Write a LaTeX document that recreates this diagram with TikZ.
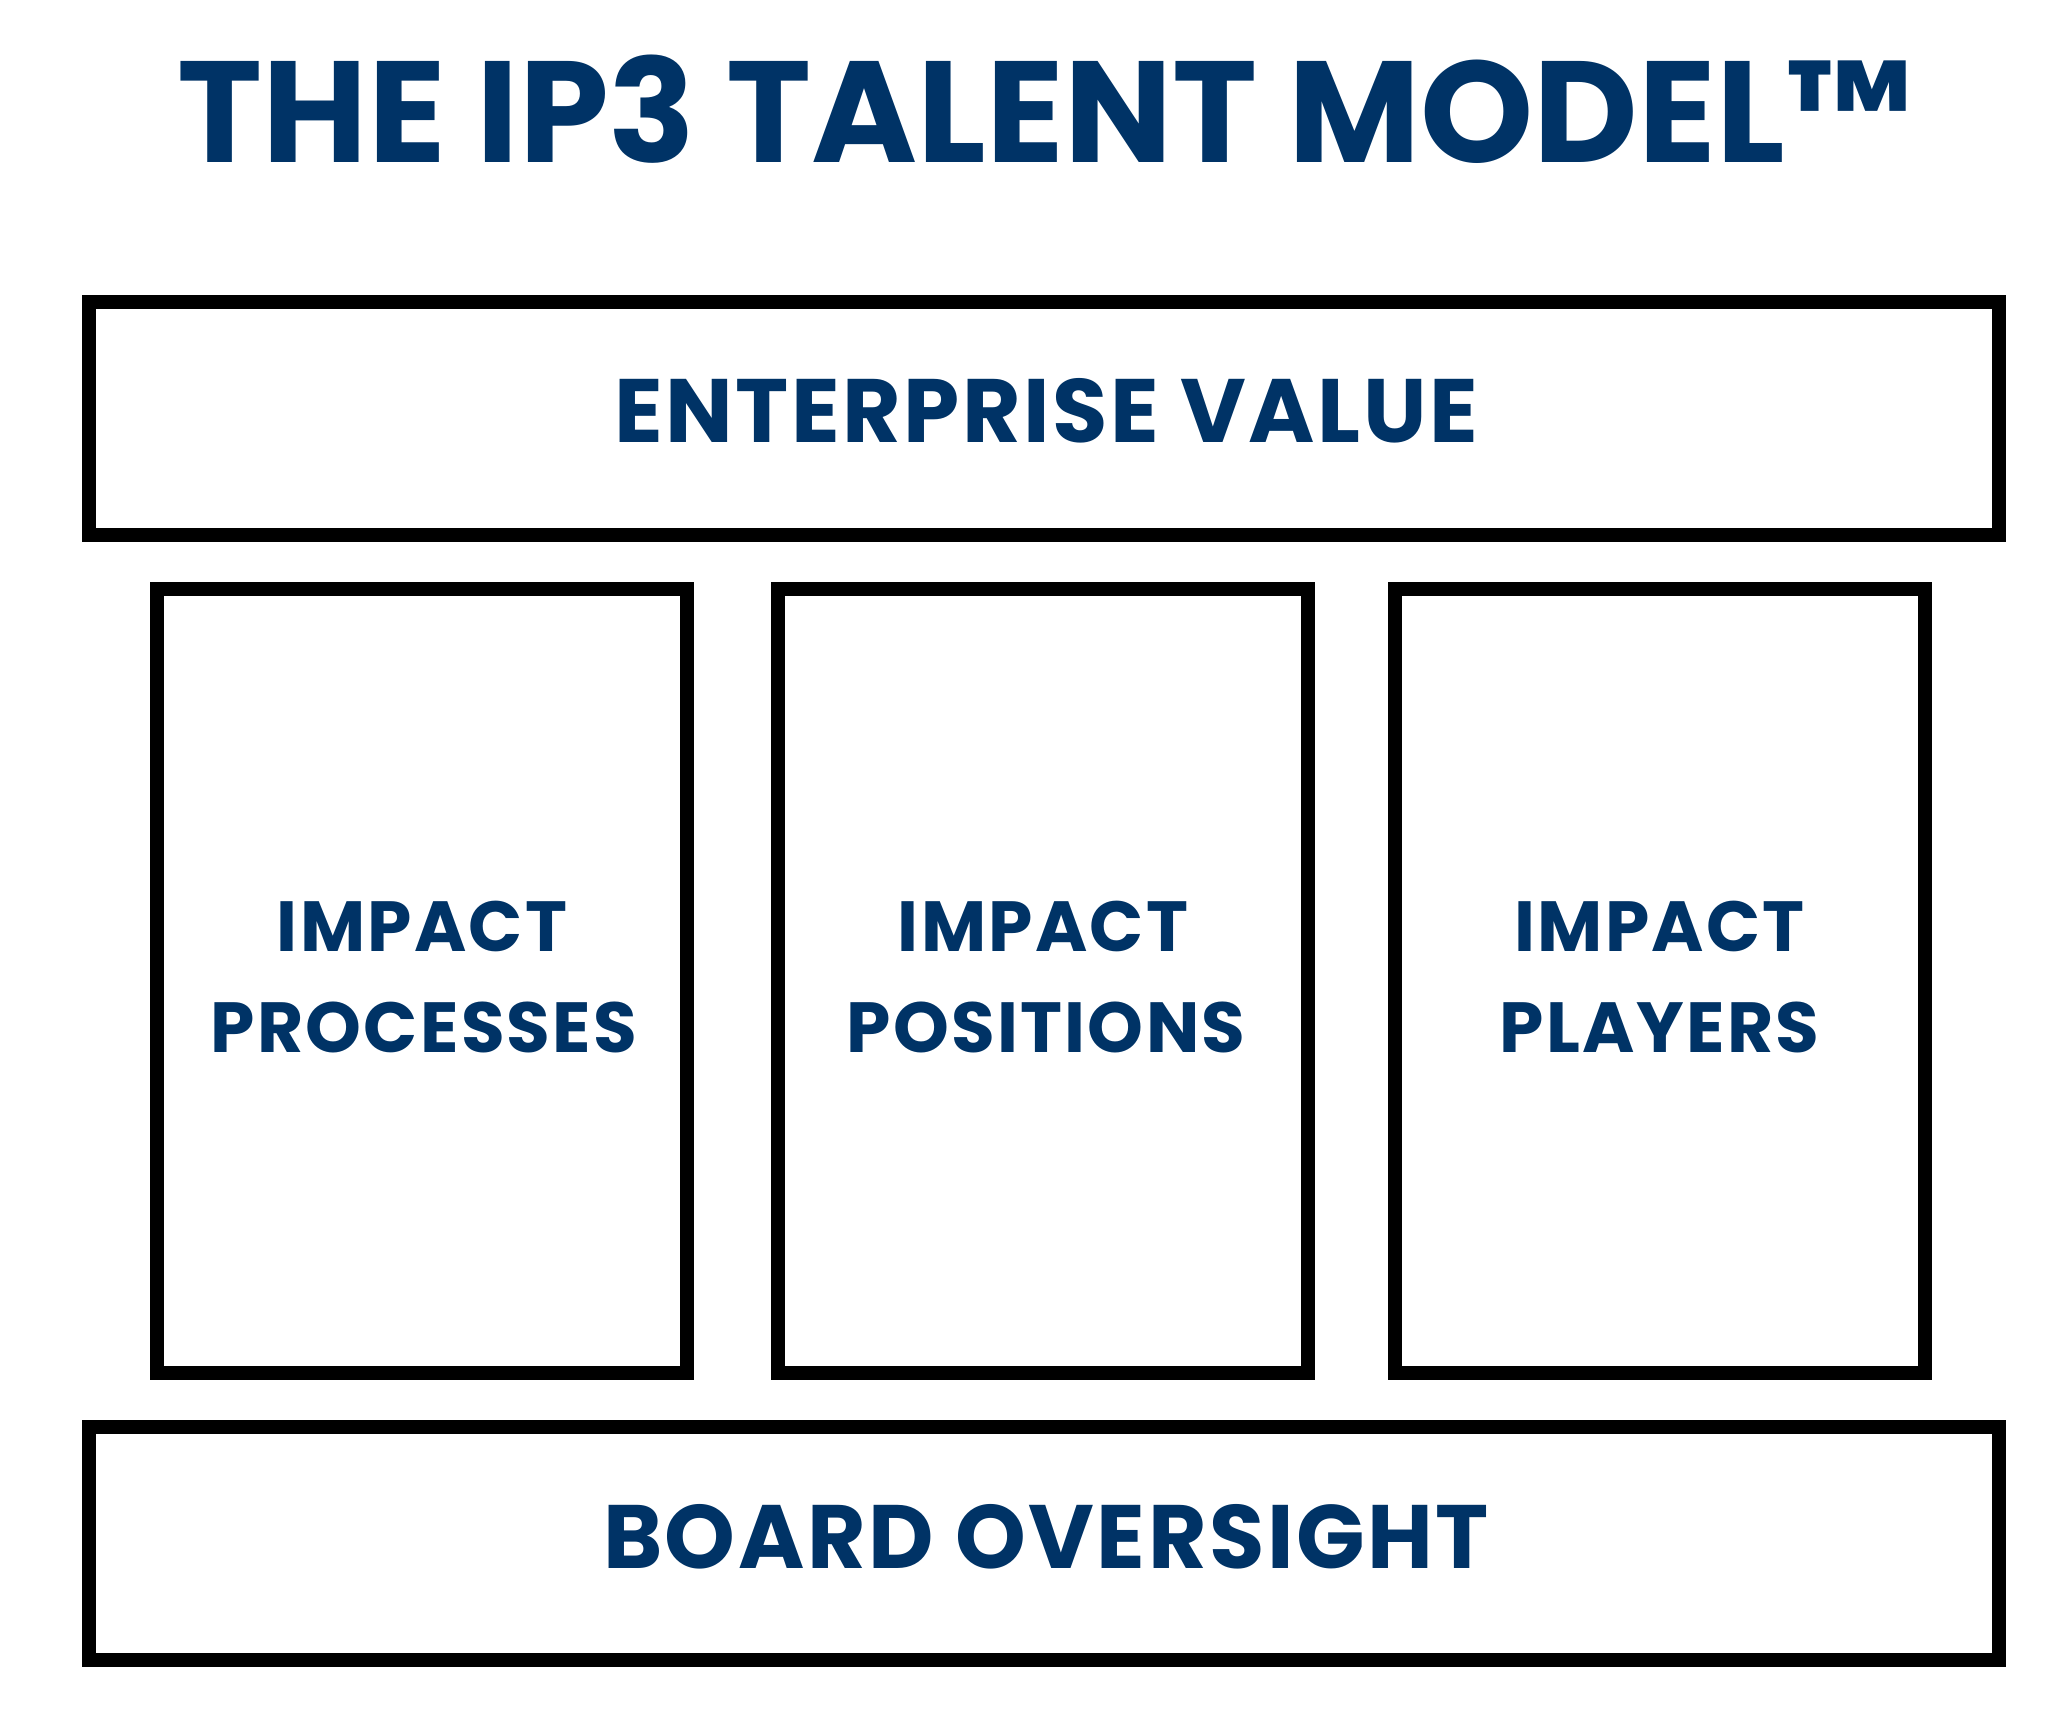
\documentclass[tikz,border=0pt]{standalone}
\usepackage{fontspec}
\setmainfont{Poppins}
\definecolor{navy}{RGB}{0,51,102}
\tikzset{
  frame/.style={draw=black, line width=7pt, fill=white, inner sep=0pt, minimum width=#1},
  wide/.style={frame=955pt, minimum height=116.5pt},
  pillar/.style={frame=265pt, minimum height=392pt},
  titletext/.style={anchor=base, text=navy, inner sep=0pt, font=\fontsize{72}{80}\selectfont\bfseries},
  bandtext/.style={anchor=base, text=navy, inner sep=0pt, font=\fontsize{45}{50}\selectfont\bfseries\addfontfeature{LetterSpace=2.8}},
  coltext/.style={anchor=base, text=navy, inner sep=0pt, font=\fontsize{35.5}{40}\selectfont\bfseries\addfontfeature{LetterSpace=3.2}},
}
\begin{document}
\begin{tikzpicture}[x=0.5pt, y=-0.5pt]
\useasboundingbox[fill=white] (0,0) rectangle (2066,1708);
\node[titletext] (title) at (1045,162) {THE IP3 TALENT MODEL™};
\node[wide] (ev) at (1044,418.5) {};
\node[bandtext] (evt) at (1046,442) {ENTERPRISE VALUE};
\node[pillar] (c1) at (422,981) {};
\node[pillar] (c2) at (1043,981) {};
\node[pillar] (c3) at (1659.5,981) {};
\node[coltext] (c1a) at (422,951) {IMPACT};
\node[coltext] (c1b) at (424,1052) {PROCESSES};
\node[coltext] (c2a) at (1043,951) {IMPACT};
\node[coltext] (c2b) at (1046,1052) {POSITIONS};
\node[coltext] (c3a) at (1659.5,951) {IMPACT};
\node[coltext] (c3b) at (1659.5,1052) {PLAYERS};
\node[wide] (bo) at (1044,1543) {};
\node[bandtext] (bot) at (1046,1568) {BOARD OVERSIGHT};
\end{tikzpicture}
\end{document}
